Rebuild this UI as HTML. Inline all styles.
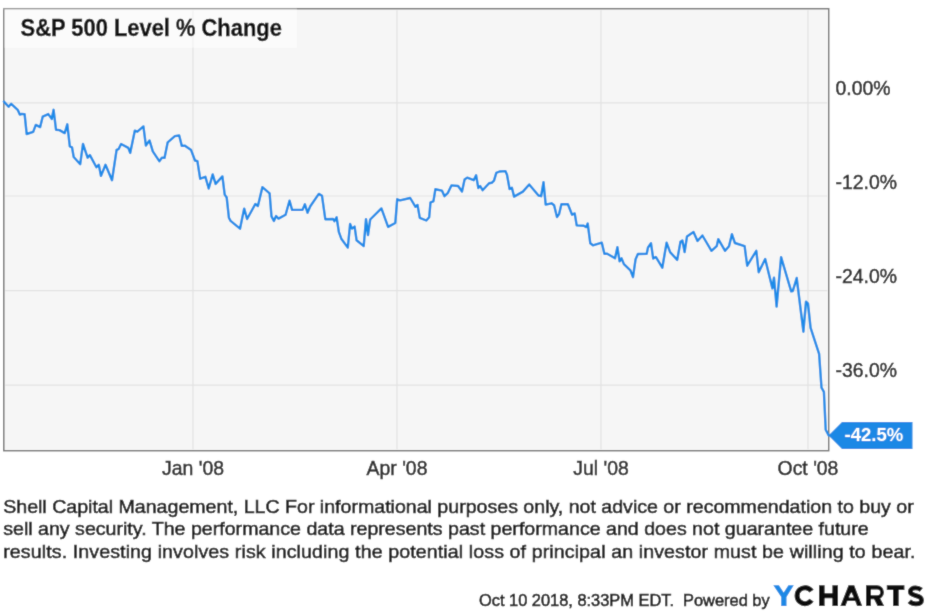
<!DOCTYPE html>
<html><head><meta charset="utf-8">
<style>
html,body{margin:0;padding:0;background:#fff;width:928px;height:615px;overflow:hidden}
svg{display:block;will-change:transform}
text{font-family:"Liberation Sans",sans-serif}
</style></head><body>
<svg width="928" height="615" viewBox="0 0 928 615">
<defs><filter id="bl" x="0" y="0" width="928" height="615" filterUnits="userSpaceOnUse"><feConvolveMatrix order="3" kernelMatrix="0.02 0.08 0.02 0.08 0.6 0.08 0.02 0.08 0.02" preserveAlpha="false" edgeMode="duplicate"/></filter></defs>
<g filter="url(#bl)">
<rect x="0" y="0" width="928" height="615" fill="#fff"/>
<rect x="3.8" y="8.7" width="824.9" height="442" fill="#fcfcfc" stroke="#777777" stroke-width="1.5"/>
<rect x="5.3" y="10.2" width="821.9" height="439" fill="#f6f6f6"/>
<g stroke="#e2e2e2" stroke-width="1.2">
<line x1="5.3" x2="827.2" y1="102.9" y2="102.9"/>
<line x1="5.3" x2="827.2" y1="196" y2="196"/>
<line x1="5.3" x2="827.2" y1="290.7" y2="290.7"/>
<line x1="5.3" x2="827.2" y1="385.1" y2="385.1"/>
<line y1="10.2" y2="449.2" x1="193" x2="193"/>
<line y1="10.2" y2="449.2" x1="397" x2="397"/>
<line y1="10.2" y2="449.2" x1="601" x2="601"/>
<line y1="10.2" y2="449.2" x1="808" x2="808"/>
</g>
<rect x="4.5" y="9.5" width="292.4" height="38.3" fill="#fff" fill-opacity="0.5"/>
<rect x="3" y="7.5" width="293.9" height="2.2" fill="#fff" fill-opacity="0.25"/>
<text x="20.6" y="36.15" font-size="21.9" font-weight="bold" fill="#111" stroke="#111" stroke-width="0.35" transform="translate(0 36.15) scale(1 1.1) translate(0 -36.15)">S&amp;P 500 Level % Change</text>
<path d="M3.9,101.6 L8.6,106.8 L11.2,103.8 L17.7,109.8 L19.8,114.6 L21.6,114.0 L24.6,114.1 L26.7,134.0 L33.2,131.8 L35.8,124.9 L40.1,127.1 L42.7,116.7 L48.3,114.1 L51.7,118.9 L53.6,109.8 L56.0,129.7 L59.5,130.1 L64.7,133.1 L67.3,124.3 L69.8,146.4 L72.0,147.3 L73.7,157.0 L80.2,164.2 L83.0,144.0 L87.6,157.7 L89.9,155.1 L96.4,167.2 L98.8,164.8 L101.0,175.9 L105.5,164.8 L112.0,180.2 L116.6,149.9 L118.5,149.2 L121.1,144.0 L128.3,147.9 L130.2,152.9 L134.8,130.7 L137.4,131.7 L143.4,126.4 L145.9,145.6 L149.5,140.4 L152.8,151.4 L159.3,161.2 L161.9,157.7 L164.5,157.9 L167.7,142.3 L174.9,136.1 L179.2,135.5 L181.8,145.9 L184.6,145.6 L191.1,150.1 L195.0,160.5 L197.4,161.2 L200.2,178.7 L205.4,176.8 L208.7,188.5 L212.7,174.4 L215.6,183.9 L222.4,176.4 L224.7,194.6 L226.7,197.5 L228.9,217.7 L230.6,220.9 L240.0,228.7 L244.2,208.6 L247.1,219.0 L255.3,204.0 L257.9,206.0 L262.4,187.1 L269.6,193.3 L271.5,216.4 L273.9,220.9 L276.1,216.0 L278.5,218.6 L285.6,214.7 L289.5,200.7 L292.1,209.9 L302.5,209.9 L304.9,204.3 L307.5,212.7 L310.3,206.2 L318.8,193.9 L322.0,195.8 L325.3,219.2 L333.1,219.0 L334.4,221.2 L336.6,217.3 L338.9,232.2 L341.3,238.7 L347.8,247.6 L350.1,224.0 L352.0,228.6 L354.6,226.6 L356.6,240.3 L363.7,246.1 L366.0,219.1 L368.0,235.1 L370.2,219.5 L381.4,208.4 L388.1,226.9 L395.3,223.0 L397.2,199.3 L400.1,200.3 L410.2,198.0 L415.5,206.8 L417.5,204.9 L419.8,217.9 L426.3,220.5 L429.2,217.2 L430.5,202.3 L433.4,201.4 L435.4,189.3 L441.9,190.6 L444.5,196.2 L447.7,193.2 L451.4,185.4 L458.1,186.0 L462.0,191.5 L464.6,179.5 L467.2,177.6 L473.7,180.2 L476.1,175.3 L478.3,188.0 L480.2,186.0 L482.6,190.2 L489.1,183.2 L491.7,182.8 L494.0,180.6 L496.3,172.8 L499.5,171.5 L505.4,171.1 L507.0,174.7 L509.6,189.0 L511.9,187.7 L514.1,196.6 L522.9,191.6 L529.2,184.5 L538.5,195.5 L541.1,196.2 L543.5,182.2 L545.7,204.6 L551.5,203.3 L554.1,205.3 L557.0,217.0 L559.1,214.1 L561.4,204.3 L567.9,204.3 L572.1,214.7 L574.7,213.4 L576.7,225.4 L583.8,225.8 L586.2,227.1 L587.7,223.5 L590.3,243.3 L592.9,245.3 L601.8,242.7 L604.4,253.7 L607.2,253.7 L615.0,258.3 L617.4,247.2 L619.6,261.3 L621.5,258.3 L623.9,264.1 L630.4,270.3 L633.0,277.2 L635.6,259.2 L637.9,254.0 L646.7,253.8 L648.0,247.5 L651.0,243.3 L653.2,258.6 L655.8,256.9 L662.3,267.7 L666.6,242.6 L670.1,252.1 L677.2,259.9 L680.5,241.7 L682.4,240.4 L684.6,252.1 L687.0,236.5 L693.5,231.9 L697.5,241.0 L702.4,235.5 L711.5,250.8 L716.7,246.2 L718.3,239.1 L725.1,250.8 L729.0,246.2 L731.9,234.2 L734.9,243.0 L744.6,246.2 L747.2,265.7 L756.3,250.8 L758.7,272.2 L765.2,259.0 L772.4,288.4 L774.0,277.6 L776.6,306.6 L781.1,257.2 L791.2,291.4 L792.8,291.0 L796.7,278.0 L803.4,331.7 L806.0,301.7 L808.0,303.7 L810.6,327.8 L819.1,353.8 L821.5,387.7 L823.9,391.8 L825.7,429.8 L828.7,435.4" fill="none" stroke="#1f8be8" stroke-width="2.4" stroke-linejoin="round" stroke-linecap="round"/>
<g font-size="19.4" fill="#2a2a2a" stroke="#2a2a2a" stroke-width="0.5">
<text x="835.5" y="95">0.00%</text>
<text x="835.5" y="189">-12.0%</text>
<text x="835.5" y="283">-24.0%</text>
<text x="835.5" y="377">-36.0%</text>
</g>
<g font-size="19.4" fill="#2a2a2a" stroke="#2a2a2a" stroke-width="0.5" text-anchor="middle">
<text x="193" y="474.5">Jan '08</text>
<text x="397" y="474.5">Apr '08</text>
<text x="601" y="474.5">Jul '08</text>
<text x="808" y="474.5">Oct '08</text>
</g>
<path d="M828.5,435.5 L842,422 L912.5,422 L912.5,449 L842,449 Z" fill="#1e88e5"/>
<text x="844.5" y="440.9" font-size="18.5" font-weight="bold" fill="#fff">-42.5%</text>
<g font-size="19.6" fill="#1a1a1a" stroke="#1a1a1a" stroke-width="0.6">
<text transform="translate(3.2 513.3) scale(1 0.95)" textLength="910.5">Shell Capital Management, LLC For informational purposes only, not advice or recommendation to buy or</text>
<text transform="translate(3.2 535.4) scale(1 0.95)" textLength="865.5">sell any security. The performance data represents past performance and does not guarantee future</text>
<text transform="translate(3.2 557.6) scale(1 0.95)" textLength="912.2">results. Investing involves risk including the potential loss of principal an investor must be willing to bear.</text>
</g>
<text x="479" y="606" font-size="16.4" fill="#1a1a1a" stroke="#1a1a1a" stroke-width="0.6" xml:space="preserve">Oct 10 2018, 8:33PM EDT.  Powered by</text>
<g fill="#0a0a0a">
<path fill="#1e88e5" d="M773.3,585.3 L778.9,585.3 L783.7,592.6 L788.4,585.3 L793.8,585.3 L786.5,597 L786.5,606.1 L781.2,606.1 L781.2,597 Z"/>
<path d="M811.55,591.23 A7.9,8.0 0 1 0 811.55,600.17" fill="none" stroke="#0a0a0a" stroke-width="5"/>
<path d="M819,585.3 h5.6 v7.9 h7.8 v-7.9 h5.6 v20.8 h-5.6 v-7.9 h-7.8 v7.9 h-5.6 Z"/>
<path fill-rule="evenodd" d="M840.4,606.1 L848.5,585.3 L854.2,585.3 L862.2,606.1 L857.1,606.1 L855.2,601.1 L847.4,601.1 L845.5,606.1 Z M851.3,592.3 L853.8,597.6 L848.8,597.6 Z"/>
<path fill-rule="evenodd" d="M866,585.3 L877,585.3 A6.95,6.95 0 0 1 877,599.2 L871,599.2 L871,606.1 L866,606.1 Z M871,589.4 L877.3,589.4 A2.95,2.95 0 0 1 877.3,595.3 L871,595.3 Z"/>
<path d="M873.5,598 L879.8,597.5 L884.2,606.1 L877.5,606.1 Z"/>
<path d="M886.8,585.3 H904.4 V589.9 H898.7 V606.1 H893 V589.9 H886.8 Z"/>
<path d="M921.3,589.8 C919.5,588.3 917.8,587.8 915.6,587.8 C912.5,587.8 910.3,589.3 910.3,591.6 C910.3,594.3 913,595 915.8,595.6 C919,596.3 921.5,597.2 921.5,600.2 C921.5,602.5 919.3,603.8 915.8,603.8 C913.2,603.8 911,602.8 909.3,601.2" fill="none" stroke="#0a0a0a" stroke-width="4.8"/>
</g>
</g>
</svg>
</body></html>
